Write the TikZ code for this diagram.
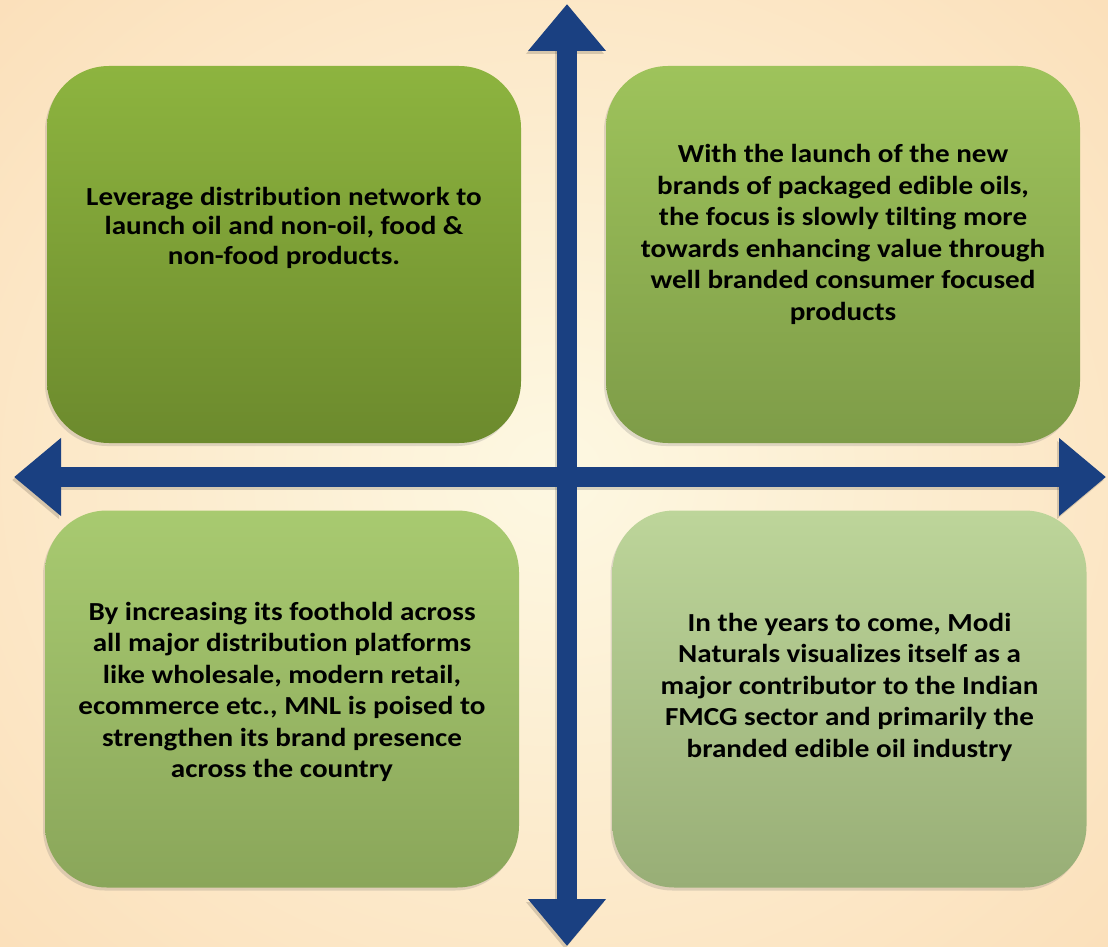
\documentclass[tikz,border=0pt]{standalone}
\usepackage{fontspec}
\setmainfont{Carlito}[FakeStretch=1.12, Ligatures=NoCommon]
\usetikzlibrary{arrows.meta,shadows}

\definecolor{bgin}{HTML}{FDF8E2}
\definecolor{bgout}{HTML}{FBDDB6}
\definecolor{axisblue}{HTML}{1A4081}

\begin{document}
\begin{tikzpicture}[x=1pt,y=-1pt,
  quad/.style={rounded corners=62pt, minimum width=474pt, minimum height=377pt,
    inner sep=0pt, drop shadow={shadow xshift=-2pt, shadow yshift=-3pt, opacity=.2, fill=black!60}},
  quadtext/.style={font=\bfseries\fontsize{26}{31.5}\selectfont, align=center, text=black},
  axisarrow/.style={line width=20pt, color=axisblue,
    {Triangle[width=75pt,length=47pt]}-{Triangle[width=75pt,length=47pt]}}]
\useasboundingbox (0,0) rectangle (1108,947);
\begin{scope}
  \clip (0,0) rectangle (1108,947);
  \shade[inner color=bgin, outer color=bgout] (-300,-300) rectangle (1408,1247);
\end{scope}

\node[quad, top color={rgb,255:red,141;green,180;blue,63}, bottom color={rgb,255:red,108;green,138;blue,45}]
  (tl) at (284,254.5) {};
\node[quad, top color={rgb,255:red,158;green,195;blue,91}, bottom color={rgb,255:red,126;green,156;blue,72}]
  (tr) at (843,254.5) {};
\node[quad, top color={rgb,255:red,168;green,202;blue,112}, bottom color={rgb,255:red,138;green,166;blue,90}]
  (bl) at (282,699) {};
\node[quad, top color={rgb,255:red,189;green,213;blue,154}, bottom color={rgb,255:red,152;green,174;blue,118}]
  (br) at (849.5,699) {};

\node[quadtext, font=\bfseries\fontsize{26}{29.5}\selectfont] at ([yshift=27pt]tl.center) {Leverage distribution network to\\launch oil and non-oil, food \&\\non-food products.};
\node[quadtext] at ([yshift=20pt]tr.center) {With the launch of the new\\brands of packaged edible oils,\\the focus is slowly tilting more\\towards enhancing value through\\well branded consumer focused\\products};
\node[quadtext] at ([yshift=7pt]bl.center) {By increasing its foothold across\\all major distribution platforms\\like wholesale, modern retail,\\ecommerce etc., MNL is poised to\\strengthen its brand presence\\across the country};
\node[quadtext] at ([yshift=12pt]br.center) {In the years to come, Modi\\Naturals visualizes itself as a\\major contributor to the Indian\\FMCG sector and primarily the\\branded edible oil industry};

\coordinate (north) at (567,4);
\coordinate (south) at (567,946);
\coordinate (west) at (14,477);
\coordinate (east) at (1106,477);
\draw[axisarrow, color=black, opacity=.15, transform canvas={xshift=-2pt,yshift=-3pt}] (south) -- (north);
\draw[axisarrow, color=black, opacity=.15, transform canvas={xshift=-2pt,yshift=-3pt}] (west) -- (east);
\draw[axisarrow] (south) -- (north);
\draw[axisarrow] (west) -- (east);
\end{tikzpicture}
\end{document}
